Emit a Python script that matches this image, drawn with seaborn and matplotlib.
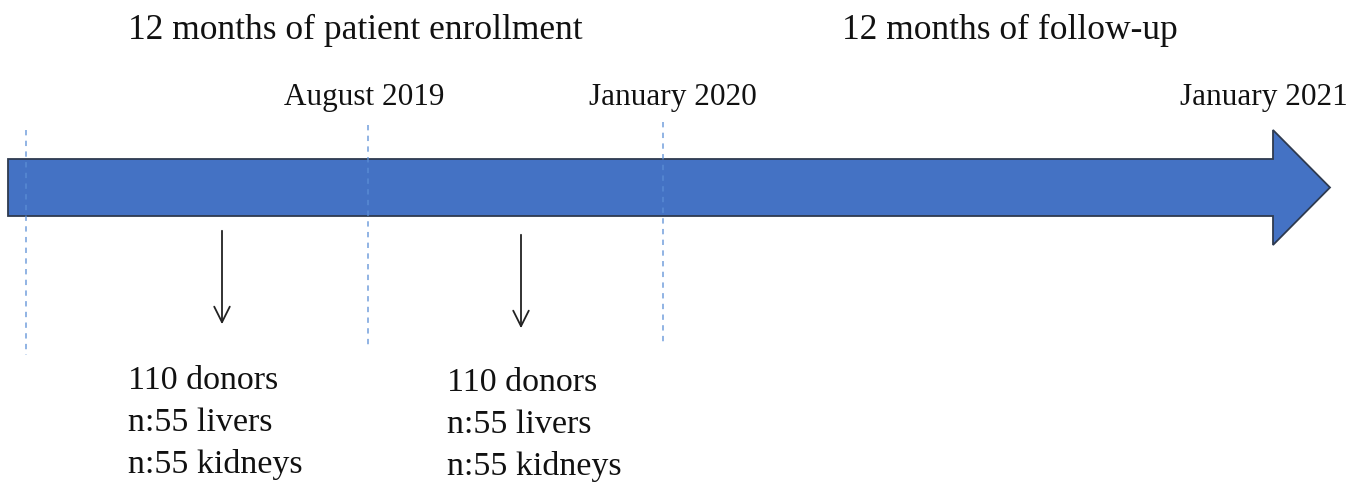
import matplotlib.pyplot as plt
import seaborn as sns
from matplotlib.patches import Polygon

sns.set_theme(style="white")
plt.rcParams["font.family"] = ["Liberation Serif", "DejaVu Serif"]

# phase headers
phase_labels = ["12 months of patient enrollment", "12 months of follow-up"]
phase_x = [355, 1010]

# milestones on the timeline
milestone_labels = ["August 2019", "January 2020", "January 2021"]
milestone_x = [364, 673, 1264]

# dashed period markers (x, top, bottom)
marker_x = [26, 368, 663]
marker_top = [130, 125, 122]
marker_bottom = [355, 345, 345]

# cohort blocks
cohort_lines = [["110 donors", "n:55 livers", "n:55 kidneys"],
                ["110 donors", "n:55 livers", "n:55 kidneys"]]
cohort_x = [128, 447]
cohort_y = [381, 383]
arrow_x = [222, 521]
arrow_y = [(228, 327), (232, 331)]

fig = plt.figure(figsize=(13.64, 4.83), dpi=100)
ax = fig.add_axes([0, 0, 1, 1])
ax.set_xlim(0, 1364)
ax.set_ylim(483, 0)
ax.axis("off")

# big timeline arrow
shaft_top, shaft_bot = 159, 216
head_x, head_top, head_bot, tip_x = 1273, 130, 245, 1330
mid = (head_top + head_bot) / 2
pts = [(8, shaft_top), (head_x, shaft_top), (head_x, head_top), (tip_x, mid),
       (head_x, head_bot), (head_x, shaft_bot), (8, shaft_bot)]
ax.add_patch(Polygon(pts, closed=True, facecolor="#4472C4", edgecolor="#2E3A4F",
                     linewidth=1.3, zorder=2))

ax.vlines(marker_x, marker_top, marker_bottom, colors="#5B8FD6", linewidth=1.1,
          linestyles=(0, (3.5, 3.5)), alpha=0.85, zorder=3)

for txt, x in zip(phase_labels, phase_x):
    ax.text(x, 30, txt, ha="center", va="center", fontsize=25.5, color="#111111")

for txt, x in zip(milestone_labels, milestone_x):
    ax.text(x, 97, txt, ha="center", va="center", fontsize=22.5, color="#111111")

for x, (y0, y1) in zip(arrow_x, arrow_y):
    ax.annotate("", xy=(x, y1), xytext=(x, y0),
                arrowprops=dict(arrowstyle="->", color="#222222", lw=1.3,
                                mutation_scale=28))

for lines, x, y in zip(cohort_lines, cohort_x, cohort_y):
    for i, line in enumerate(lines):
        ax.text(x, y + i * 41.5, line, ha="left", va="center", fontsize=24.5,
                color="#111111")

fig.savefig("out.png", dpi=100)
